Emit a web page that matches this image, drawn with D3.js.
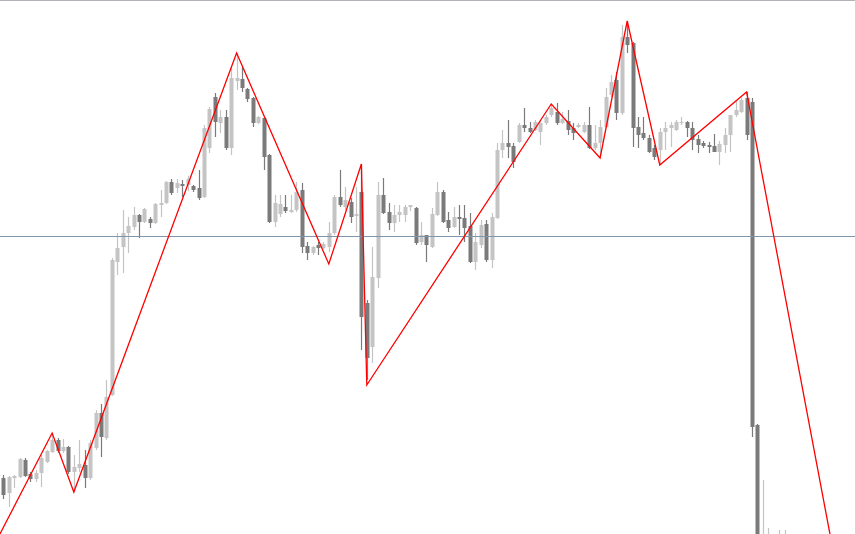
<!DOCTYPE html>
<html>
<head>
<meta charset="utf-8">
<script src="https://cdn.jsdelivr.net/npm/d3@7"></script>
<style>
  html, body { margin: 0; padding: 0; background: #ffffff; }
  svg { display: block; }
</style>
</head>
<body>
<svg id="chart" width="855" height="534"></svg>
<script>
// Price series (relative price units)
const opens = [56,41,56,57,74,60,55,61,72,82,94,83,87,62,66,69,56,86,121,96,
139,272,287,301,307,319,312,315,311,329,331,352,346,350,349,348,346,337,386,437,
411,417,386,453,455,445,436,411,416,379,312,320,327,322,324,344,288,281,289,286,
287,301,337,327,332,318,342,231,187,256,339,322,311,319,319,327,326,292,299,287,
319,342,314,307,317,316,308,272,289,310,274,316,384,391,388,392,409,406,404,402,
411,419,422,411,413,406,407,402,409,386,391,407,439,454,421,497,491,407,401,396,
386,384,402,406,404,411,412,406,395,391,389,388,382,389,399,419,422,436,432,109,
-66,-40,-45,-40,-35];
const highs = [59,58,59,76,76,62,64,79,84,101,96,95,88,79,94,84,94,124,130,154,
276,301,324,317,327,320,326,317,331,344,353,355,355,354,358,349,364,409,427,441,
424,424,467,481,467,446,437,418,417,380,339,339,339,339,352,351,292,288,292,292,
312,339,364,347,336,347,370,234,287,352,356,331,329,329,329,329,327,312,299,326,
352,344,322,327,329,329,321,301,314,314,321,391,404,414,391,411,426,412,414,414,
419,430,431,422,424,411,411,412,427,409,414,446,459,462,509,513,492,417,417,399,
389,406,412,412,414,417,413,412,399,393,392,400,393,406,419,434,436,442,436,110,
54,6,-3,4,4];
const lows = [35,27,46,56,57,52,52,47,71,81,81,81,60,42,62,46,54,84,77,94,
138,259,261,281,304,296,311,306,310,317,330,339,341,337,343,342,334,336,381,397,
401,384,379,444,442,432,407,410,364,311,307,317,321,321,322,281,274,279,279,285,
282,299,327,324,311,302,184,154,171,246,320,304,302,312,312,323,289,289,272,286,
318,311,302,306,299,292,271,264,286,272,266,315,376,376,366,391,402,401,403,389,
409,417,409,410,399,394,406,401,385,384,378,406,437,414,419,481,387,386,394,381,
374,370,384,387,403,409,397,384,381,386,381,382,369,381,382,417,421,394,97,-66,
-86,-60,-60,-55,-50];
const closes = [39,57,58,75,58,55,61,76,83,94,83,87,62,67,70,56,91,121,97,137,
274,286,301,308,319,312,325,311,330,331,352,341,351,348,355,344,336,406,425,412,
417,386,456,456,446,435,411,417,377,312,331,330,323,324,342,287,281,287,286,290,
301,337,329,334,317,320,217,176,257,339,321,311,319,322,327,329,291,299,289,320,
342,312,306,317,315,306,272,292,309,274,317,384,391,387,372,409,406,402,412,411,
417,426,411,415,404,401,409,409,386,391,407,437,452,421,497,489,406,399,396,382,
377,402,406,409,412,412,406,394,389,388,387,382,390,399,419,424,434,399,107,-26,
-36,-30,-35,-30,-25];

// ZigZag indicator vertices: bar index and price
const zigzagBars   = [-3, 9, 13, 43, 60, 66, 67, 101, 110, 115, 121, 137, 154];
const zigzagPrices = [-25, 101, 42, 481, 270, 370, 149, 430, 376, 513, 369, 442, -47];

// Horizontal price level
const levelPrice = 298;

const W = 855, H = 534;
const svg = d3.select("#chart");

const x = d3.scaleLinear().domain([0, 138]).range([3.3, 752]);
const y = d3.scaleLinear().domain([0, 534]).range([534, 0]);

const bars = opens.map((o, i) => ({ i, o, h: highs[i], l: lows[i], c: closes[i] }));

const BULL = "#c4c4c4", BEAR = "#7a7a7a";
const bodyW = 4;

// top border
svg.append("line")
  .attr("x1", 0).attr("x2", W).attr("y1", 0.5).attr("y2", 0.5)
  .attr("stroke", "#b0b4b8").attr("stroke-width", 1);

const g = svg.append("g");

// wicks
g.selectAll("line.wick").data(bars).join("line")
  .attr("class", "wick")
  .attr("x1", d => Math.round(x(d.i)) + 0.5)
  .attr("x2", d => Math.round(x(d.i)) + 0.5)
  .attr("y1", d => y(d.h))
  .attr("y2", d => y(d.l))
  .attr("stroke", d => d.c >= d.o ? BULL : BEAR)
  .attr("stroke-width", 1.2);

// bodies
g.selectAll("rect.body").data(bars).join("rect")
  .attr("class", "body")
  .attr("x", d => Math.round(x(d.i)) + 0.5 - bodyW / 2)
  .attr("width", bodyW)
  .attr("y", d => y(Math.max(d.o, d.c)))
  .attr("height", d => Math.max(1, Math.abs(y(d.o) - y(d.c))))
  .attr("fill", d => d.c >= d.o ? BULL : BEAR);

// horizontal level
svg.append("line")
  .attr("x1", 0).attr("x2", W)
  .attr("y1", Math.round(y(levelPrice)) + 0.5).attr("y2", Math.round(y(levelPrice)) + 0.5)
  .attr("stroke", "#7f95ab").attr("stroke-width", 1);

// zigzag
const zz = zigzagBars.map((b, k) => [x(b), y(zigzagPrices[k])]);
svg.append("path")
  .attr("d", d3.line()(zz))
  .attr("fill", "none")
  .attr("stroke", "#ff0000")
  .attr("stroke-width", 1.3)
  .attr("stroke-linejoin", "miter");
</script>
</body>
</html>
